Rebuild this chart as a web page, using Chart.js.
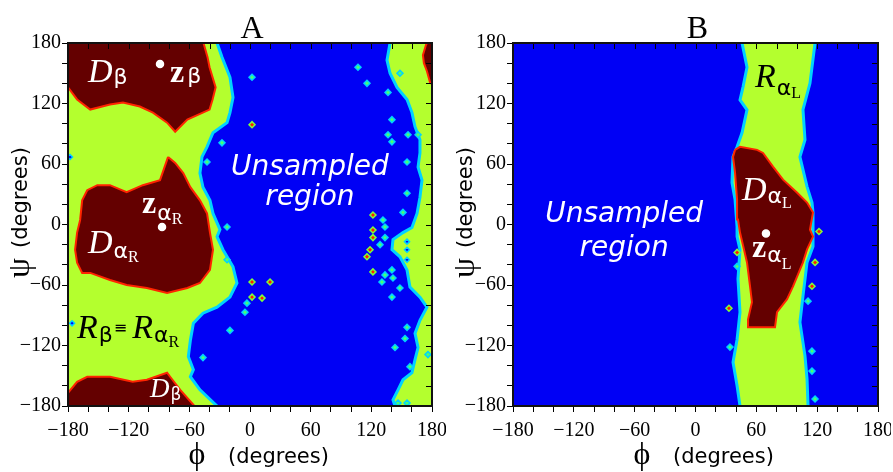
<!DOCTYPE html>
<html>
<head>
<meta charset="utf-8">
<script src="https://cdn.jsdelivr.net/npm/chart.js@4.4.1/dist/chart.umd.min.js"></script>
<style>
  html, body { margin: 0; padding: 0; background: #fff; }
  #wrap { position: relative; width: 893px; height: 472px; overflow: hidden; }
  canvas { position: absolute; top: 0; }
  #panelA { left: 0; }
  #panelB { left: 445px; }
</style>
</head>
<body>
<div id="wrap">
  <canvas id="panelA" width="446" height="472"></canvas>
  <canvas id="panelB" width="446" height="472"></canvas>
</div>
<script>
// Ramachandran-type maps as [phi, psi] pairs (degrees)
const LABELLED_TICKS = [-180, -120, -60, 0, 60, 120, 180]

// Panel A: boundary of the unsampled (blue) region
const aBlueLeft = [[-32.6,180],[-27.7,166],[-19.8,146],[-16.8,126],[-19.8,111],[-22.7,101],[-36.6,91],[-42.5,77],[-47.5,67],[-49.5,51],[-46.5,37],[-39.6,24],[-36.6,11],[-29.7,-5],[-32.6,-12],[-26.7,-25],[-16.8,-42],[-12.9,-58],[-19.8,-72],[-32.6,-82],[-46.5,-88],[-56,-98],[-59,-115],[-61,-131],[-56,-144],[-59,-151],[-49.5,-164],[-32.6,-180]]
const aBlueRight = [[138.5,180],[135.5,163],[138.5,150],[145.4,136],[155.3,124],[160.2,111],[163.2,97],[168.1,84],[168.1,71],[166.2,57],[170.1,44],[168.1,27],[165.2,11],[160.2,-3],[151.3,-8],[141.4,-15],[140.4,-25],[148.3,-32],[155.3,-45],[158.2,-62],[168.1,-72],[175,-82],[168.1,-95],[163.2,-108],[166.2,-122],[163.2,-134],[160.2,-147],[151.3,-154],[146.4,-164],[141.4,-174],[143.4,-180]]

// Panel A: dense (dark red) regions
const aDBetaTop = [[-180,180],[-180,136],[-171,124],[-158,114],[-138.5,119],[-125.6,121],[-109,117],[-96,111],[-82,101],[-74,92],[-62,104],[-40,114],[-37,124],[-34,136],[-40,156],[-42,166],[-46,180]]
const aDBetaWrap = [[180,180],[175,180],[174,178],[171,168],[172,160],[175,152],[178,141],[180,139]]
const aDAlphaR = [[-81,67],[-89,44],[-106,39],[-122,32],[-138.5,39],[-151,39],[-161,34],[-166,24],[-168,4.5],[-171,-8],[-173,-25],[-171,-38],[-166,-48],[-158,-48],[-138.5,-55],[-122,-60],[-102,-63],[-82,-68],[-62,-63],[-49.5,-58],[-39.6,-45],[-36.6,-25],[-39.6,-8],[-42.5,11],[-49.5,24],[-59,37],[-66,51],[-74,61],[-81,67]]
const aDBetaBottom = [[-180,-180],[-180,-167],[-171,-156],[-161,-151],[-138.5,-151],[-116,-156],[-102,-154],[-82,-147],[-79,-151],[-69,-164],[-55,-180]]

// Panel A: isolated sampled cells
const aSpecks = [[106.8,156],[115.7,140],[136.5,131],[148.3,150],[140.4,104],[136.5,89],[140.4,82],[155.3,62],[155.3,31],[151.3,12],[131.5,4.5],[156.3,89],[166.2,89],[133.5,-2.5],[133.5,-13],[128.6,-20],[133.5,-50],[130.5,-57],[140.4,-45],[141.4,-53],[148.3,-63],[140.4,-72],[155.3,-102],[153.3,-113],[143.4,-122],[158.2,-141],[176,-129],[146.4,-177],[155.3,-177],[2,146],[-27.7,81],[-42.5,62],[-22.7,-2.5],[-22.7,-35],[-3,-78],[-5,-87],[-19.8,-105],[-46.5,-132]]
const aHotSpecks = [[121.6,9.4],[121.6,-5.4],[121.6,-13],[118.7,-25],[115.7,-32],[121.6,-47],[2,99],[2,-57],[19.8,-57],[2,-72],[11.9,-73]]
const aHoles = [[155.3,-17],[155.3,-25],[155.3,-35],[-178,67],[-176,-98]]
const aZDots = [[-89,159.2],[-87,-2.5]]

// Panel B: sampled band and its dense region
const bBandLeft = [[45.9,180],[50.8,156],[46.9,136.5],[43.9,123.6],[50.8,113.7],[45.9,91],[41,77],[37,67],[36,41.5],[39,24.7],[41,-2],[41,-12],[43.9,-25],[41.9,-54],[43.9,-87],[41,-114],[37,-136.5],[41,-160],[43.9,-180]]
const bBandRight = [[117.9,180],[112.9,140],[106,114],[108,84],[103,67],[110,37.6],[114.9,21.8],[115.9,11.9],[115.9,-21.8],[110,-37.6],[106,-71],[103,-97],[108,-130.5],[110,-153],[111,-180]]
const bDAlphaL = [[39,74],[43.9,77],[60.7,74],[66.6,71],[76.4,57.4],[86.3,44.5],[100,31.7],[110,21.8],[115.9,11.9],[112.9,-5],[115.9,-12],[110,-24.7],[106,-37.6],[96.2,-61.3],[90.3,-74],[80.4,-87],[78.4,-102],[51.8,-102],[51.8,-94],[55.7,-77],[53.8,-61.3],[50.8,-37.6],[43.9,-8],[41.9,5],[41,24.7],[39,51.4],[37,67],[39,74]]
const bSpecks = [[34,-121.6],[41,-41.5],[111,-76],[114.9,-125.6],[114.9,-145.4],[117.9,-173]]
const bHotSpecks = [[33,-83],[41,-27.7],[117.9,-37.6],[114.9,-61.3],[121.8,-7]]
const bZDots = [[69.5,-8.9]]

const BLUE = "#0000f5"
const LIME = "#b4ff2e"
const MAROON = "#640000"
const EDGE_CYAN = "#00d2ff"
const EDGE_RED = "#ff2400"
const SERIF = '"Liberation Serif", "Times New Roman", serif'
const SANS = '"DejaVu Sans", sans-serif'

// annotations: anchor [phi, psi], runs of [text, font, dx, dy]
const aLabels = [
  { at: [-160.2, 141.3], color: "#fff", runs: [["D", `italic 34px ${SERIF}`, 0, 0], ["β", `22px ${SANS}`, 1, 2]] },
  { at: [-79.1, 141.3], color: "#fff", runs: [["z", `bold 32px ${SERIF}`, 0, 0], ["β", `22px ${SANS}`, 3, 1]] },
  { at: [-106.8, 11.4], color: "#fff", runs: [["z", `bold 32px ${SERIF}`, 0, 0], ["α", `22px ${SANS}`, 1, 7], ["R", `16px ${SERIF}`, 0, 11]] },
  { at: [-160.2, -28.3], color: "#fff", runs: [["D", `italic 34px ${SERIF}`, 0, 0], ["α", `22px ${SANS}`, 1, 5], ["R", `16px ${SERIF}`, 0, 9]] },
  { at: [-171.1, -112.5], color: "#000", runs: [["R", `italic 34px ${SERIF}`, 0, 0], ["β", `22px ${SANS}`, 1, 4], ["≡", `16px ${SANS}`, 1, -5], ["R", `italic 34px ${SERIF}`, 5, 0], ["α", `22px ${SANS}`, 1, 4], ["R", `16px ${SERIF}`, 0, 9]] },
  { at: [-98.9, -171], color: "#fff", runs: [["D", `italic 27px ${SERIF}`, 0, 0], ["β", `17px ${SANS}`, 1, 3]] },
  { at: [59.3, 49.1], color: "#fff", center: true, runs: [["Unsampled", `italic 28px ${SANS}`, 0, 0]] },
  { at: [59.3, 19.3], color: "#fff", center: true, runs: [["region", `italic 28px ${SANS}`, 0, 0]] }
]
const bLabels = [
  { at: [58.7, 136.5], color: "#000", runs: [["R", `italic 34px ${SERIF}`, 0, 0], ["α", `22px ${SANS}`, 1, 8], ["L", `16px ${SERIF}`, 0, 11]] },
  { at: [45.9, 24.7], color: "#fff", runs: [["D", `italic 34px ${SERIF}`, 0, 0], ["α", `22px ${SANS}`, 1, 3], ["L", `16px ${SERIF}`, 0, 8]] },
  { at: [55.7, -32.6], color: "#fff", runs: [["z", `bold 32px ${SERIF}`, 0, 0], ["α", `22px ${SANS}`, 1, 5], ["L", `16px ${SERIF}`, 0, 12]] },
  { at: [-70.4, 2], color: "#fff", center: true, runs: [["Unsampled", `italic 28px ${SANS}`, 0, 0]] },
  { at: [-70.4, -31.6], color: "#fff", center: true, runs: [["region", `italic 28px ${SANS}`, 0, 0]] }
]

const xy = (pts) => pts.map(([x, y]) => ({ x, y }))

const area = (pts, color, order, border) => ({
  data: xy(pts), showLine: true, fill: "shape", backgroundColor: color,
  borderColor: border || color, borderWidth: border ? 2 : 0,
  pointRadius: 0, tension: 0, order
})
const edge = (pts, color, order) => ({
  data: xy(pts), showLine: true, fill: false, borderColor: color, borderWidth: 3,
  pointRadius: 0, tension: 0, order
})
const dots = (pts, bg, border, order, r = 3, style = "rectRot") => ({
  data: xy(pts), showLine: false, pointStyle: style, pointRadius: r,
  backgroundColor: bg, borderColor: border, borderWidth: 1.5, order
})

const fmtAngle = (v) => (v < 0 ? "\u2212" + Math.abs(v) : String(v))

function angleAxis(position) {
  const horizontal = position === "bottom"
  return {
    type: "linear", position, min: -180, max: 180,
    ticks: {
      stepSize: 20, autoSkip: false, maxRotation: 0, minRotation: 0,
      color: "#000", font: { family: SERIF, size: 20 }, padding: horizontal ? 7 : 1,
      callback: (v) => (LABELLED_TICKS.includes(v) ? fmtAngle(v) : "")
    },
    grid: { drawOnChartArea: false, drawTicks: true, tickLength: 6, color: "#000", lineWidth: 1 },
    border: { display: true, color: "#000", width: 2 },
    afterFit(s) {
      if (horizontal) s.height = 66
      else s.width = 68
      s.paddingLeft = s.paddingRight = s.paddingTop = s.paddingBottom = 0
    }
  }
}

function decor(panel) {
  return {
    id: "decor",
    beforeDatasetsDraw(chart) {
      const { ctx, chartArea: a } = chart
      ctx.save()
      ctx.fillStyle = panel.background
      ctx.fillRect(a.left, a.top, a.width, a.height)
      ctx.restore()
    },
    afterDatasetsDraw(chart) {
      const { ctx, scales: { x, y } } = chart
      ctx.save()
      ctx.textAlign = "left"
      ctx.textBaseline = "alphabetic"
      for (const lab of panel.labels) {
        let px = x.getPixelForValue(lab.at[0])
        const py = y.getPixelForValue(lab.at[1])
        if (lab.center) {
          let w = 0
          for (const [t, font, dx] of lab.runs) { ctx.font = font; w += dx + ctx.measureText(t).width }
          px -= w / 2
        }
        ctx.fillStyle = lab.color
        for (const [t, font, dx, dy] of lab.runs) {
          ctx.font = font
          px += dx
          ctx.fillText(t, px, py + dy)
          px += ctx.measureText(t).width
        }
      }
      ctx.restore()
    },
    afterDraw(chart) {
      const { ctx, chartArea: a, scales: { x, y } } = chart
      ctx.save()
      ctx.strokeStyle = "#000"
      ctx.lineWidth = 1
      ctx.beginPath()
      x.ticks.forEach((t) => {
        const px = Math.round(x.getPixelForValue(t.value)) + 0.5
        ctx.moveTo(px, a.top); ctx.lineTo(px, a.top + 6)
      })
      y.ticks.forEach((t) => {
        const py = Math.round(y.getPixelForValue(t.value)) + 0.5
        ctx.moveTo(a.right, py); ctx.lineTo(a.right - 6, py)
      })
      ctx.stroke()
      ctx.lineWidth = 2
      ctx.strokeStyle = "#111"
      ctx.strokeRect(a.left, a.top, a.width, a.height)

      ctx.fillStyle = "#000"
      ctx.textBaseline = "alphabetic"
      ctx.textAlign = "center"
      ctx.font = `32px ${SERIF}`
      ctx.fillText(panel.title, (a.left + a.right) / 2 + 2, 38)

      // axis titles
      ctx.textBaseline = "middle"
      ctx.font = `32px ${SERIF}`
      ctx.fillText("ϕ", a.left + 129, 456)
      ctx.textAlign = "left"
      ctx.font = `21px ${SANS}`
      ctx.fillText("(degrees)", a.left + 160, 458)

      ctx.translate(a.left - 47, 268)
      ctx.rotate(-Math.PI / 2)
      ctx.textAlign = "center"
      ctx.font = `32px ${SERIF}`
      ctx.fillText("ψ", 0, 0)
      ctx.textAlign = "left"
      ctx.font = `21px ${SANS}`
      ctx.fillText("(degrees)", 20, 1)
      ctx.restore()
    }
  }
}

function makePanel(canvasId, panel) {
  return new Chart(document.getElementById(canvasId), {
    type: "scatter",
    data: { datasets: panel.datasets },
    options: {
      responsive: false,
      animation: false,
      events: [],
      layout: { padding: { top: 43, right: panel.padRight, left: 0, bottom: 0 } },
      plugins: { legend: { display: false }, tooltip: { enabled: false } },
      scales: { x: angleAxis("bottom"), y: angleAxis("left") }
    },
    plugins: [decor(panel)]
  })
}

makePanel("panelA", {
  title: "A", background: LIME, padRight: 14, labels: aLabels,
  datasets: [
    area(aBlueLeft.concat([...aBlueRight].reverse()), BLUE, 50),
    edge(aBlueLeft, EDGE_CYAN, 40),
    edge(aBlueRight, EDGE_CYAN, 40),
    dots(aSpecks, "#48ff70", EDGE_CYAN, 30),
    dots(aHotSpecks, "#ff2000", "#7dff3a", 30),
    dots(aHoles, BLUE, EDGE_CYAN, 30, 2.5),
    area(aDBetaTop, MAROON, 20, EDGE_RED),
    area(aDBetaWrap, MAROON, 20, EDGE_RED),
    area(aDAlphaR, MAROON, 20, EDGE_RED),
    area(aDBetaBottom, MAROON, 20, EDGE_RED),
    dots(aZDots, "#fff", "#fff", 1, 3.5, "circle")
  ]
})

makePanel("panelB", {
  title: "B", background: BLUE, padRight: 13, labels: bLabels,
  datasets: [
    area(bBandLeft.concat([...bBandRight].reverse()), LIME, 50),
    edge(bBandLeft, EDGE_CYAN, 40),
    edge(bBandRight, EDGE_CYAN, 40),
    dots(bSpecks, "#48ff70", EDGE_CYAN, 30),
    dots(bHotSpecks, "#ff2000", "#7dff3a", 30),
    area(bDAlphaL, MAROON, 20, EDGE_RED),
    dots(bZDots, "#fff", "#fff", 1, 3.5, "circle")
  ]
})
</script>
</body>
</html>
